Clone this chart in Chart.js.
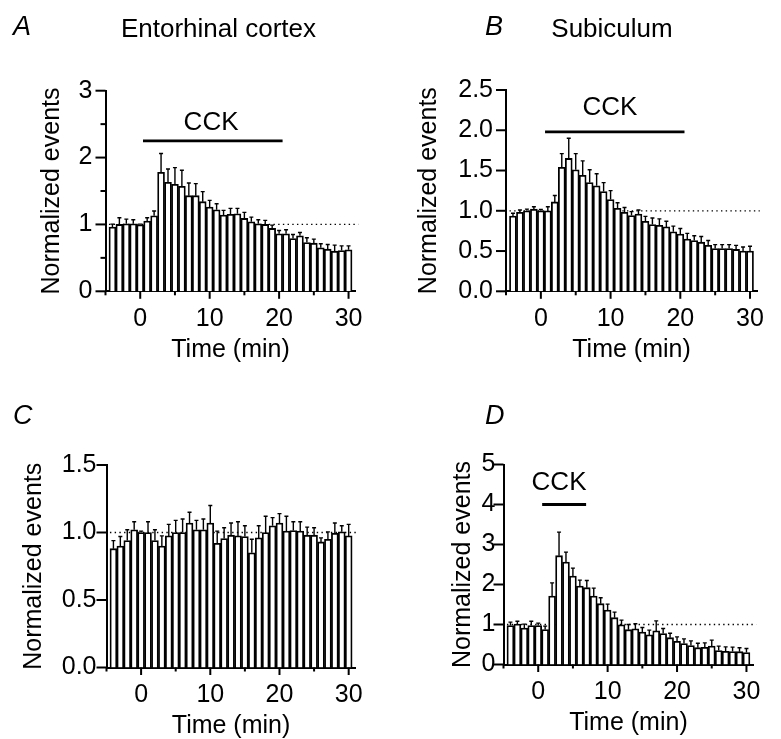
<!DOCTYPE html>
<html>
<head>
<meta charset="utf-8">
<script src="https://cdn.jsdelivr.net/npm/chart.js@4.4.1/dist/chart.umd.min.js"></script>
<style>
  html, body { margin: 0; padding: 0; background: #fff; overflow: hidden; }
  #fig { position: relative; width: 781px; height: 739px; }
  canvas { position: absolute; }
</style>
</head>
<body>
<div id="fig">
  <canvas id="panelA"></canvas>
  <canvas id="panelB"></canvas>
  <canvas id="panelC"></canvas>
  <canvas id="panelD"></canvas>
</div>
<script>
// time bins (min), one bar per bin
const times = [-4,-3,-2,-1,0,1,2,3,4,5,6,7,8,9,10,11,12,13,14,15,16,17,18,19,20,21,22,23,24,25,26,27,28,29,30];

// A: entorhinal cortex, CCK
const ecValues = [0.96,1.00,1.01,1.01,0.995,1.05,1.13,1.78,1.63,1.60,1.57,1.43,1.43,1.34,1.26,1.22,1.14,1.15,1.16,1.09,1.04,1.01,1.00,0.94,0.86,0.86,0.79,0.83,0.73,0.72,0.65,0.63,0.60,0.61,0.62];
const ecSem = [0.045,0.10,0.07,0.06,0.01,0.05,0.07,0.28,0.20,0.25,0.24,0.19,0.18,0.15,0.10,0.09,0.07,0.09,0.08,0.09,0.07,0.06,0.06,0.05,0.05,0.06,0.06,0.05,0.07,0.06,0.06,0.07,0.09,0.07,0.06];

// B: subiculum, CCK
const subValues = [0.935,0.98,1.00,1.02,1.00,1.00,1.11,1.54,1.65,1.51,1.44,1.35,1.31,1.24,1.14,1.03,0.98,0.94,0.96,0.87,0.83,0.82,0.80,0.74,0.71,0.65,0.63,0.61,0.57,0.53,0.53,0.53,0.52,0.50,0.50];
const subSem = [0.035,0.03,0.02,0.03,0.015,0.05,0.08,0.17,0.25,0.20,0.18,0.16,0.15,0.11,0.11,0.07,0.06,0.05,0.05,0.06,0.08,0.08,0.07,0.07,0.07,0.07,0.06,0.07,0.06,0.05,0.05,0.05,0.05,0.05,0.06];

// C: no drug
const ctrlValues = [0.88,0.90,0.94,1.02,1.00,1.00,0.94,0.90,0.975,1.00,1.00,1.07,1.02,1.02,1.07,0.92,0.955,0.98,0.975,0.97,0.85,0.96,1.00,1.05,1.07,1.01,1.015,1.01,0.98,0.98,0.93,0.95,0.995,1.005,0.975];
const ctrlSem = [0.06,0.07,0.08,0.06,0.01,0.08,0.08,0.075,0.085,0.09,0.10,0.08,0.07,0.08,0.13,0.09,0.08,0.09,0.105,0.08,0.10,0.09,0.12,0.06,0.07,0.11,0.065,0.07,0.06,0.055,0.03,0.055,0.075,0.045,0.085];

// D: short CCK application
const dValues = [0.975,1.01,0.91,0.975,0.975,0.875,1.71,2.72,2.56,2.21,1.96,1.92,1.71,1.52,1.36,1.17,0.99,0.87,0.89,0.81,0.74,0.84,0.775,0.67,0.58,0.525,0.475,0.42,0.43,0.46,0.35,0.33,0.325,0.32,0.30];
const dSem = [0.085,0.07,0.10,0.105,0.06,0.085,0.33,0.59,0.25,0.20,0.15,0.18,0.20,0.15,0.15,0.14,0.12,0.13,0.13,0.115,0.12,0.25,0.125,0.11,0.11,0.115,0.115,0.11,0.11,0.15,0.11,0.11,0.11,0.10,0.10];

// tick labels
const xTickLabels = ['0','10','20','30'];
const yTicksA = ['0','1','2','3'];
const yTicksB = ['0.0','0.5','1.0','1.5','2.0','2.5'];
const yTicksC = ['0.0','0.5','1.0','1.5'];
const yTicksD = ['0','1','2','3','4','5'];

const FONT = "'Liberation Sans', Arial, Helvetica, sans-serif";
Chart.defaults.font.family = FONT;
Chart.defaults.color = '#000';

function labelFor(list, v) {
  const hit = list.find(l => Math.abs(parseFloat(l) - v) < 1e-6);
  return hit === undefined ? '' : hit;
}

function makePanel(id, cfg) {
  const canvas = document.getElementById(id);
  canvas.width = cfg.box[2];
  canvas.height = cfg.box[3];
  canvas.style.left = cfg.box[0] + 'px';
  canvas.style.top = cfg.box[1] + 'px';

  const decor = {
    id: 'decor' + id,
    beforeDatasetsDraw(chart) {
      // dotted baseline at 1
      const {ctx, scales: {x, y}} = chart;
      ctx.save();
      ctx.strokeStyle = '#000';
      ctx.lineWidth = 1.3;
      ctx.setLineDash([1.4, 3.3]);
      ctx.beginPath();
      ctx.moveTo(x.getPixelForValue(-4.5), y.getPixelForValue(1));
      ctx.lineTo(x.getPixelForValue(31.4), y.getPixelForValue(1));
      ctx.stroke();
      ctx.restore();
    },
    afterDatasetsDraw(chart) {
      // error bars (upper half only)
      const {ctx, scales: {x, y}} = chart;
      ctx.save();
      ctx.strokeStyle = '#000';
      ctx.lineWidth = 1.4;
      cfg.values.forEach((v, i) => {
        const px = x.getPixelForValue(times[i]);
        const y0 = y.getPixelForValue(v);
        const y1 = y.getPixelForValue(v + cfg.sem[i]);
        ctx.beginPath();
        ctx.moveTo(px, y0);
        ctx.lineTo(px, y1);
        ctx.moveTo(px - 2, y1);
        ctx.lineTo(px + 2, y1);
        ctx.stroke();
      });
      ctx.restore();
    },
    afterDraw(chart) {
      const {ctx, chartArea, scales: {x, y}} = chart;
      ctx.save();
      ctx.strokeStyle = '#000';
      ctx.fillStyle = '#000';
      ctx.lineWidth = 2;
      // x tick marks
      x.ticks.forEach(t => {
        if (t.value % 5 !== 0) return;
        const len = (t.value % 10 === 0 && t.value >= 0) ? 7.5 : 4;
        const px = x.getPixelForValue(t.value);
        ctx.beginPath();
        ctx.moveTo(px, chartArea.bottom);
        ctx.lineTo(px, chartArea.bottom + len);
        ctx.stroke();
      });
      // y tick marks
      y.ticks.forEach(t => {
        const len = labelFor(cfg.yLabels, t.value) ? 10 : 5;
        const py = y.getPixelForValue(t.value);
        ctx.beginPath();
        ctx.moveTo(chartArea.left, py);
        ctx.lineTo(chartArea.left - len, py);
        ctx.stroke();
      });
      // CCK application bar
      if (cfg.cck) {
        const c = cfg.cck;
        const yy = y.getPixelForValue(c.level);
        ctx.lineWidth = 2.8;
        ctx.beginPath();
        ctx.moveTo(x.getPixelForValue(c.from), yy);
        ctx.lineTo(x.getPixelForValue(c.to), yy);
        ctx.stroke();
        ctx.font = '26px ' + FONT;
        ctx.textAlign = 'center';
        ctx.textBaseline = 'alphabetic';
        ctx.fillText('CCK', x.getPixelForValue(c.textAt), yy - c.gap);
      }
      // panel letter and heading
      ctx.textBaseline = 'alphabetic';
      ctx.textAlign = 'left';
      ctx.font = 'italic 27px ' + FONT;
      ctx.fillText(cfg.letter, cfg.letterPos[0], cfg.letterPos[1]);
      if (cfg.heading) {
        ctx.textAlign = 'center';
        ctx.font = '26px ' + FONT;
        ctx.fillText(cfg.heading, cfg.headingPos[0], cfg.headingPos[1]);
      }
      ctx.restore();
    }
  };

  return new Chart(canvas, {
    type: 'bar',
    data: {
      datasets: [{
        data: times.map((t, i) => ({x: t, y: cfg.values[i]})),
        backgroundColor: '#fff',
        borderColor: '#000',
        borderWidth: 1.8,
        borderSkipped: 'start',
        barPercentage: 1,
        categoryPercentage: 1
      }]
    },
    options: {
      responsive: false,
      animation: false,
      events: [],
      layout: {padding: {left: 0, top: cfg.padT, right: cfg.padR, bottom: 0}},
      plugins: {legend: {display: false}, tooltip: {enabled: false}},
      scales: {
        x: {
          type: 'linear',
          min: -5,
          max: 31,
          offset: false,
          grid: {display: false, drawTicks: false},
          border: {display: true, width: 2, color: '#000'},
          ticks: {
            stepSize: 5,
            includeBounds: false,
            autoSkip: false,
            maxRotation: 0,
            padding: 12.5,
            font: {size: 25},
            callback: v => xTickLabels.includes(String(v)) ? String(v) : ''
          },
          title: {
            display: true,
            text: 'Time (min)',
            font: {size: 25, lineHeight: 1},
            padding: {top: 0, bottom: cfg.xTitlePad}
          },
          afterFit: s => { s.height = cfg.xHeight; }
        },
        y: {
          min: 0,
          max: cfg.yMax,
          grid: {display: false, drawTicks: false},
          border: {display: true, width: 2, color: '#000'},
          ticks: {
            stepSize: cfg.yStep,
            autoSkip: false,
            padding: cfg.yLabelPad,
            font: {size: 25},
            callback: v => labelFor(cfg.yLabels, v)
          },
          title: {
            display: true,
            text: 'Normalized events',
            font: {size: 25, lineHeight: 1},
            padding: {top: cfg.yTitlePad, bottom: 0}
          },
          afterFit: s => { s.width = cfg.yWidth; }
        }
      }
    },
    plugins: [decor]
  });
}

makePanel('panelA', {
  box: [0, 0, 390, 370],
  values: ecValues, sem: ecSem,
  yMax: 3, yStep: 0.5, yLabels: yTicksA,
  yWidth: 105.5, padT: 90.7, padR: 34.5, xHeight: 78.7,
  yTitlePad: 39.5, xTitlePad: 7.5, yLabelPad: 13,
  cck: {from: 0.4, to: 20.5, level: 2.25, textAt: 10.2, gap: 10.7},
  letter: 'A', letterPos: [13, 35],
  heading: 'Entorhinal cortex', headingPos: [218.5, 36.7]
});

makePanel('panelB', {
  box: [390, 0, 391, 370],
  values: subValues, sem: subSem,
  yMax: 2.5, yStep: 0.5, yLabels: yTicksB,
  yWidth: 116, padT: 90, padR: 24, xHeight: 78.7,
  yTitlePad: 26.5, xTitlePad: 7.5, yLabelPad: 13,
  cck: {from: 0.6, to: 20.6, level: 1.98, textAt: 9.9, gap: 16.5},
  letter: 'B', letterPos: [95, 35],
  heading: 'Subiculum', headingPos: [222, 36.7]
});

makePanel('panelC', {
  box: [0, 370, 390, 369],
  values: ctrlValues, sem: ctrlSem,
  yMax: 1.5, yStep: 0.5, yLabels: yTicksC,
  yWidth: 106.5, padT: 95, padR: 34.4, xHeight: 71.5,
  yTitlePad: 22, xTitlePad: 0, yLabelPad: 10,
  cck: null,
  letter: 'C', letterPos: [13, 54],
  heading: null
});

makePanel('panelD', {
  box: [390, 370, 391, 369],
  values: dValues, sem: dSem,
  yMax: 5, yStep: 1, yLabels: yTicksD,
  yWidth: 113.5, padT: 94.5, padR: 27.6, xHeight: 74.5,
  yTitlePad: 60.5, xTitlePad: 3, yLabelPad: 8,
  cck: {from: 0.57, to: 6.9, level: 4.0, textAt: 3.0, gap: 15},
  letter: 'D', letterPos: [95, 54],
  heading: null
});
</script>
</body>
</html>
